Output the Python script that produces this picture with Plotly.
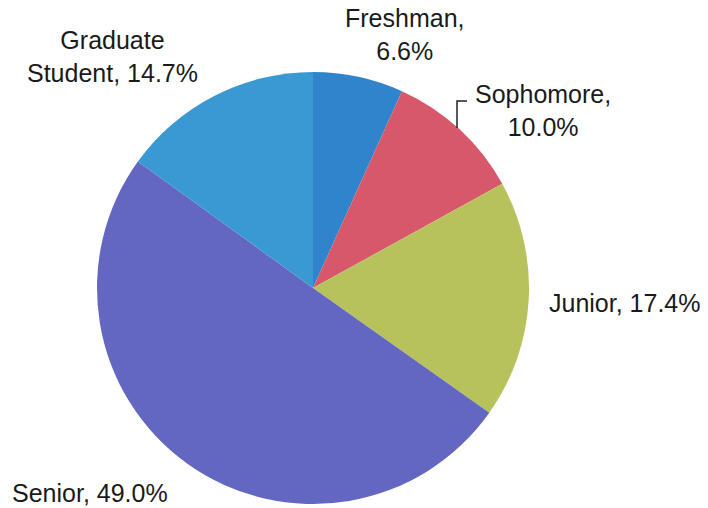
import plotly.graph_objects as go

# Student class-standing shares (percent as printed on the labels)
classes = ["Freshman", "Sophomore", "Junior", "Senior", "Graduate Student"]
shares = [6.6, 10.0, 17.4, 49.0, 14.7]
colors = ["#2f84cb", "#d6586a", "#b8c25c", "#6467c2", "#3a98d2"]

W, H = 708, 508

fig = go.Figure(
    go.Pie(
        labels=classes,
        values=shares,
        sort=False,
        direction="clockwise",
        rotation=0,
        marker=dict(colors=colors, line=dict(width=0)),
        textinfo="none",
        hoverinfo="label+text",
        text=[f"{v:.1f}%" for v in shares],
        showlegend=False,
        domain=dict(x=[97 / W, 529 / W], y=[1 - 504 / H, 1 - 72 / H]),
    )
)

# Label placement (pixel positions of each label block centre) and line breaks
label_pos = {
    "Freshman": (404, 35, "Freshman,<br>{v}"),
    "Sophomore": (543, 110, "Sophomore,<br>{v}"),
    "Junior": (625, 303, "Junior, {v}"),
    "Senior": (90, 493, "Senior, {v}"),
    "Graduate Student": (112, 56, "Graduate<br>Student, {v}"),
}

for name, v in zip(classes, shares):
    x, y, tpl = label_pos[name]
    fig.add_annotation(
        x=x / W, y=1 - y / H, xref="paper", yref="paper",
        text=tpl.format(v=f"{v:.1f}%"),
        showarrow=False, xanchor="center", yanchor="middle",
        align="center",
        font=dict(family="Liberation Sans, Arial, sans-serif", size=25, color="#1a1a1a"),
    )

# Leader bracket for the Sophomore label
def px(x, y):
    return f"{x / W:.4f},{1 - y / H:.4f}"

fig.add_shape(
    type="path", xref="paper", yref="paper",
    path=f"M{px(457, 128)} L{px(457, 101)} L{px(467, 101)}",
    line=dict(color="#222222", width=1.5),
)

fig.update_layout(
    width=W, height=H,
    margin=dict(l=0, r=0, t=0, b=0),
    paper_bgcolor="white",
    plot_bgcolor="white",
)

fig.write_html("out.html")
